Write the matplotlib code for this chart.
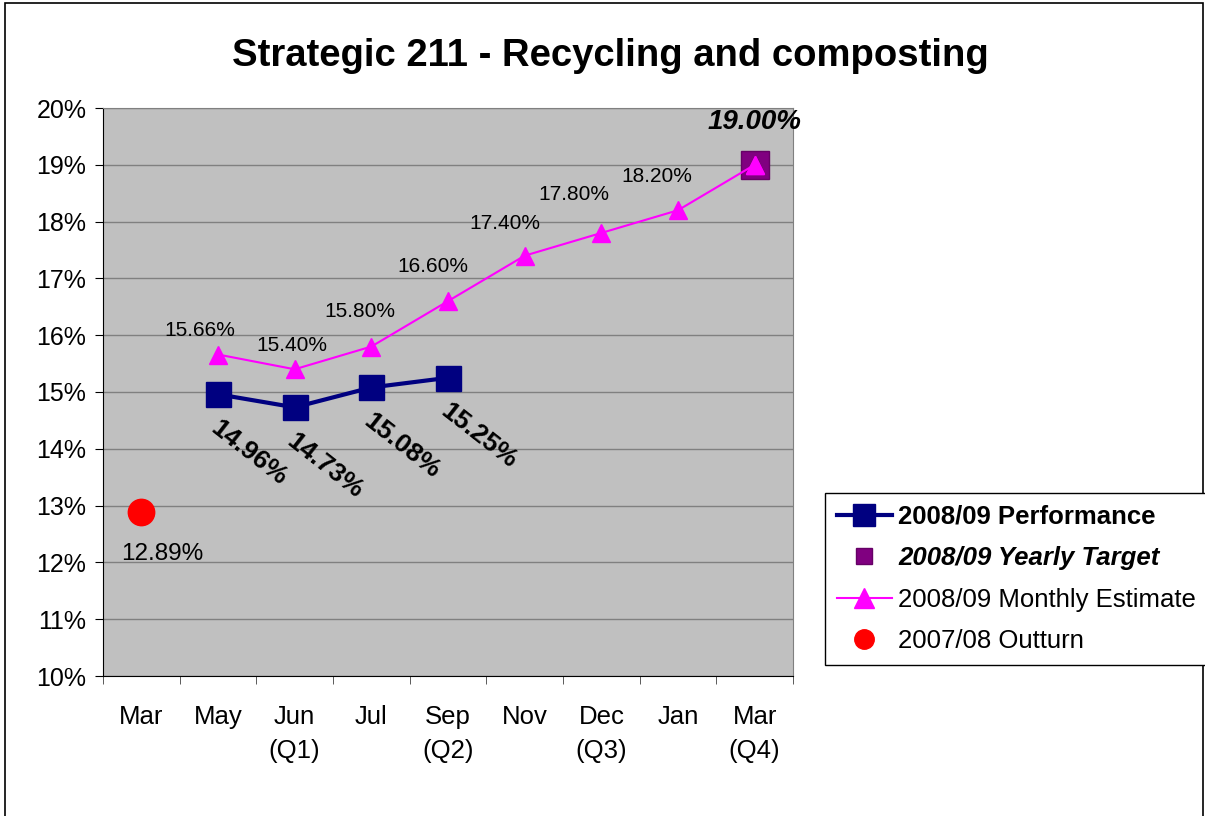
import matplotlib
matplotlib.use("Agg")
import matplotlib.pyplot as plt
from matplotlib.patches import Rectangle
from matplotlib.lines import Line2D

plt.rcParams['font.family'] = ['Liberation Sans', 'DejaVu Sans']

categories = ["Mar", "May", "Jun\n(Q1)", "Jul", "Sep\n(Q2)", "Nov", "Dec\n(Q3)", "Jan", "Mar\n(Q4)"]
perf_idx = [1, 2, 3, 4]
perf_vals = [14.96, 14.73, 15.08, 15.25]
est_idx = [1, 2, 3, 4, 5, 6, 7, 8]
est_vals = [15.66, 15.40, 15.80, 16.60, 17.40, 17.80, 18.20, 19.00]
target_idx = [8]
target_vals = [19.00]
outturn_idx = [0]
outturn_vals = [12.89]

# label offsets (points) for estimate labels
est_offsets = [(-13, 17), (-2, 17), (-8, 25), (-11, 25), (-14, 23), (-20, 28), (-15, 24), (0, 0)]

W, H = 1205, 816
fig = plt.figure(figsize=(W / 100, H / 100), dpi=100)
ax = fig.add_axes([103 / W, 1 - 676 / H, 690 / W, 568 / H])
ax.set_facecolor('#C0C0C0')

ax.set_xlim(-0.5, len(categories) - 0.5)
ax.set_ylim(10, 20)
ax.set_yticks(range(10, 21))
ax.set_yticklabels([f"{v}%" for v in range(10, 21)], fontsize=18)
ax.yaxis.grid(True, color='#808080', linewidth=1)
ax.set_axisbelow(True)

ax.set_xticks(range(len(categories)))
ax.set_xticklabels(categories, fontsize=18.5, linespacing=1.5, va='top')
ax.set_xticks([i - 0.5 for i in range(len(categories) + 1)], minor=True)
ax.tick_params(axis='x', which='major', length=0, pad=21)
ax.tick_params(axis='x', which='minor', length=6, direction='out', color='#404040')
ax.tick_params(axis='y', length=6, direction='out', pad=6)

for s in ['top', 'right']:
    ax.spines[s].set_color('#808080')
for s in ['left', 'bottom']:
    ax.spines[s].set_color('black')

# series
ax.plot(est_idx, est_vals, color='#FF00FF', linewidth=1.5, marker='^', markersize=13,
        markerfacecolor='#FF00FF', markeredgecolor='#FF00FF', zorder=3)
ax.plot(target_idx, target_vals, linestyle='none', marker='s', markersize=20,
        markerfacecolor='#800080', markeredgecolor='#660066', zorder=2)
ax.plot(est_idx[-1:], est_vals[-1:], linestyle='none', marker='^', markersize=13,
        color='#FF00FF', zorder=4)
ax.plot(perf_idx, perf_vals, color='#000080', linewidth=3, marker='s', markersize=18,
        markerfacecolor='#000080', markeredgecolor='#000080', zorder=5)
ax.plot(outturn_idx, outturn_vals, linestyle='none', marker='o', markersize=19,
        markerfacecolor='#FF0000', markeredgecolor='#FF0000', zorder=5)

# labels
for x, v, off in zip(est_idx[:-1], est_vals[:-1], est_offsets[:-1]):
    ax.annotate(f"{v:.2f}%", (x, v), xytext=off, textcoords='offset points',
                ha='center', va='center', fontsize=15)
for x, v in zip(perf_idx, perf_vals):
    ax.annotate(f"{v:.2f}%", (x, v), xytext=(22, -42), textcoords='offset points',
                ha='center', va='center', fontsize=19, fontweight='bold', rotation=-38,
                rotation_mode='anchor')
for x, v in zip(target_idx, target_vals):
    ax.annotate(f"{v:.2f}%", (x, v), xytext=(0, 31), textcoords='offset points',
                ha='center', va='center', fontsize=20, fontweight='bold', style='italic')
for x, v in zip(outturn_idx, outturn_vals):
    ax.annotate(f"{v:.2f}%", (x, v), xytext=(15, -30), textcoords='offset points',
                ha='center', va='center', fontsize=17.5)

# title
fig.text(610 / W, 1 - 56 / H, "Strategic 211 - Recycling and composting",
         ha='center', va='center', fontsize=27.5, fontweight='bold')

# legend
handles = [
    Line2D([], [], color='#000080', linewidth=3, marker='s', markersize=16),
    Line2D([], [], linestyle='none', marker='s', markersize=11,
           markerfacecolor='#800080', markeredgecolor='#660066'),
    Line2D([], [], color='#FF00FF', linewidth=1.5, marker='^', markersize=14),
    Line2D([], [], linestyle='none', marker='o', markersize=14, color='#FF0000'),
]
labels = ["2008/09 Performance", "2008/09 Yearly Target", "2008/09 Monthly Estimate", "2007/08 Outturn"]
leg = fig.legend(handles, labels, loc='upper left', bbox_to_anchor=(825 / W, 1 - 493 / H),
                 fontsize=18.5, frameon=True, fancybox=False, edgecolor='black',
                 framealpha=1, borderpad=0.45, labelspacing=0.68, handlelength=2.15,
                 handletextpad=0.25, borderaxespad=0)
leg.get_frame().set_linewidth(1)
texts = leg.get_texts()
texts[0].set_fontweight('bold')
texts[1].set_fontweight('bold')
texts[1].set_style('italic')

# outer border
fig.patches.append(Rectangle((5 / W, -0.05), (1203 - 5) / W, 1.05 - 3 / H,
                             transform=fig.transFigure, fill=False, edgecolor='black',
                             linewidth=1.2))

fig.savefig("out.png", dpi=100)
